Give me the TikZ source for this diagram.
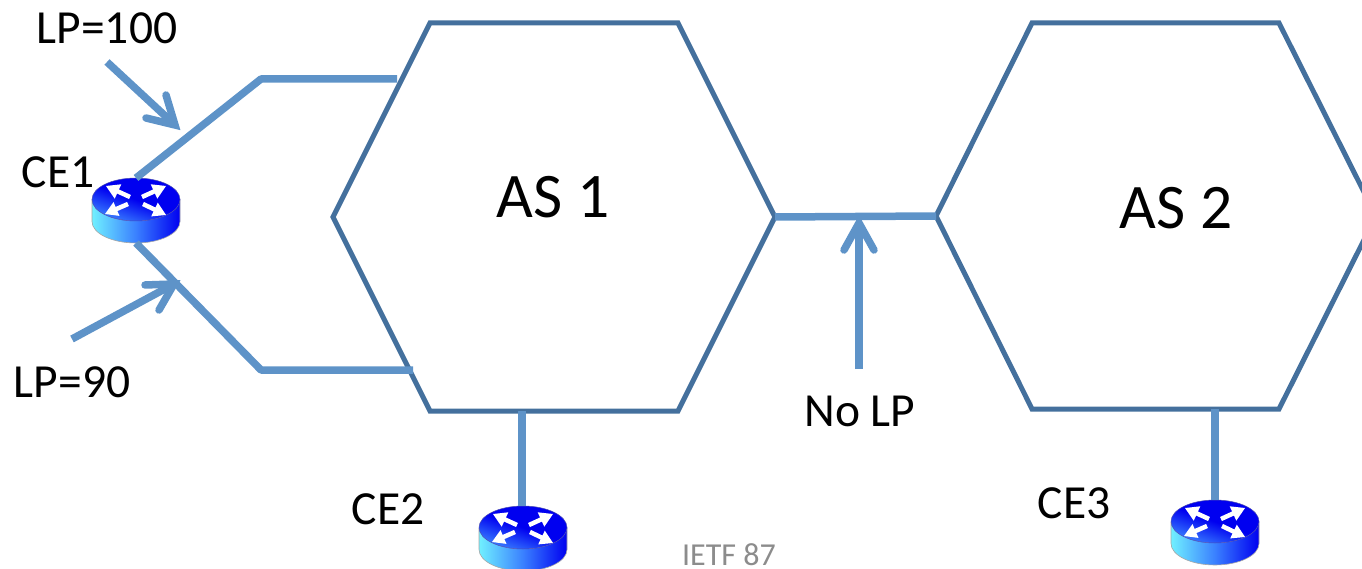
\documentclass[tikz,border=0pt]{standalone}
\usepackage{fontspec}
\setmainfont{Carlito}
\usetikzlibrary{calc}
\definecolor{hexc}{HTML}{44709D}
\definecolor{linkc}{HTML}{5E93C8}
\definecolor{routertop}{HTML}{0000F0}
\definecolor{routerlight}{HTML}{70F0FF}
\definecolor{routermid}{HTML}{3A80FF}
\definecolor{footc}{HTML}{8C8C8C}
\tikzset{
  hexline/.style={draw=hexc,line width=5pt,line join=miter},
  linkline/.style={draw=linkc,line width=7.5pt,line join=round},
  callout/.style={draw=linkc,line width=7.5pt},
  barb/.style={draw=linkc,line width=7.5pt,line cap=round,line join=miter,miter limit=10},
  label/.style={text=black,font=\fontsize{47.5}{47.5}\selectfont,inner sep=0pt,anchor=center},
  aslabel/.style={text=black,font=\fontsize{63.5}{63.5}\selectfont,inner sep=0pt,anchor=center},
  foot/.style={text=footc,font=\fontsize{32}{32}\selectfont,inner sep=0pt,anchor=center},
  routernode/.style={minimum width=88pt,minimum height=65pt,inner sep=0pt,outer sep=0pt}
}
\newcommand{\routerdraw}[1]{%
  \begin{scope}[shift={(#1)}]
    \path[left color=routerlight,right color=routertop,middle color=routermid]
      (-44,-11) -- (-44,11) arc[start angle=180,end angle=0,x radius=44,y radius=21.5] -- (44,-11)
      arc[start angle=0,end angle=180,x radius=44,y radius=21.5] -- cycle;
    \draw[gray!70,line width=.6pt] (-44,-11) -- (-44,11) arc[start angle=180,end angle=0,x radius=44,y radius=21.5] -- (44,-11);
    \shade[top color=routertop,bottom color=routermid,middle color=routertop,shading angle=-20]
      (0,-11) ellipse[x radius=44,y radius=21.5];
    \draw[gray!60!blue,line width=.5pt] (0,-11) ellipse[x radius=44,y radius=21.5];
    \foreach \a/\b/\c/\d in {6/-13.5/30/-24.5, -6/-13.5/-30/-24.5, 7/-6.5/30/4.5, -8/-6.5/-31/3.5}{
      \draw[white,line width=4.5pt] (\a,\b) -- ($(\a,\b)!.62!(\c,\d)$);
      \fill[white] (\c,\d) -- ($(\a,\b)!.5!(\c,\d)+(-.3*\d+.3*\b,.3*\c-.3*\a)$)
        -- ($(\a,\b)!.5!(\c,\d)+(.3*\d-.3*\b,-.3*\c+.3*\a)$) -- cycle;
    }
  \end{scope}}
\begin{document}
\begin{tikzpicture}[x=1pt,y=-1pt]
\useasboundingbox (0,0) rectangle (1362,569);
\clip (0,0) rectangle (1362,569);
% hexagon 1
\coordinate (a1) at (430,23); \coordinate (a2) at (678,23); \coordinate (a3) at (775,217);
\coordinate (a4) at (678,411); \coordinate (a5) at (430,411); \coordinate (a6) at (333,217);
\draw[hexline] (a1) -- (a2) -- (a3) -- (a4) -- (a5) -- (a6) -- cycle;
% hexagon 2
\coordinate (b1) at (1032,23); \coordinate (b2) at (1279,23); \coordinate (b3) at (1376,216);
\coordinate (b4) at (1279,409); \coordinate (b5) at (1032,409); \coordinate (b6) at (936,216);
\draw[hexline] (b1) -- (b2) -- (b3) -- (b4) -- (b5) -- (b6) -- cycle;
% routers
\routerdraw{136,210.5}
\routerdraw{523,538.5}
\routerdraw{1215,532.5}
\node[routernode] (ce1r) at (136,210.5) {};
\node[routernode] (ce2r) at (523,538.5) {};
\node[routernode] (ce3r) at (1215,532.5) {};
% links
\coordinate (u1) at (261,79); \coordinate (u2) at (397,79);
\coordinate (d1) at (261,370); \coordinate (d2) at (413,370);
\coordinate (ce2top) at (522,411); \coordinate (ce3top) at (1215,409);
\draw[linkline] (ce1r.north) -- (u1) -- (u2);
\draw[linkline] (ce1r.south) -- (d1) -- (d2);
\draw[linkline] (a3) -- (b6);
\draw[linkline] (ce2top) -- ([xshift=-1pt]ce2r.north);
\draw[linkline] (ce3top) -- (ce3r.north);
% callout arrows
\coordinate (t1s) at (107,62); \coordinate (t1) at (175,125);
\coordinate (t1a) at (146,118); \coordinate (t1b) at (166,95);
\draw[callout] (t1s) -- ($(t1)!4pt!(t1s)$);
\draw[barb] (t1a) -- (t1) -- (t1b);
\coordinate (t2s) at (72,339); \coordinate (t2) at (174,284);
\coordinate (t2a) at (145,285); \coordinate (t2b) at (159,310);
\draw[callout] (t2s) -- ($(t2)!4pt!(t2s)$);
\draw[barb] (t2a) -- (t2) -- (t2b);
\coordinate (t3s) at (859,369); \coordinate (t3) at (859,223);
\coordinate (t3a) at (844,250); \coordinate (t3b) at (874,250);
\draw[callout] (t3s) -- ($(t3)!4pt!(t3s)$);
\draw[barb] (t3a) -- (t3) -- (t3b);
% labels
\node[label] (lp100) at (107,28) {LP=100};
\node[label] (lp90) at (72,382) {LP=90};
\node[label] (ce1) at (58,172) {CE1};
\node[label] (ce2) at (388,509) {CE2};
\node[label] (ce3) at (1074,503) {CE3};
\node[label] (nolp) at (860,411) {No LP};
\node[aslabel] (as1) at (553,197) {AS 1};
\node[aslabel] (as2) at (1176,208) {AS 2};
\node[foot] (ietf) at (729,555) {IETF 87};
\end{tikzpicture}
\end{document}
